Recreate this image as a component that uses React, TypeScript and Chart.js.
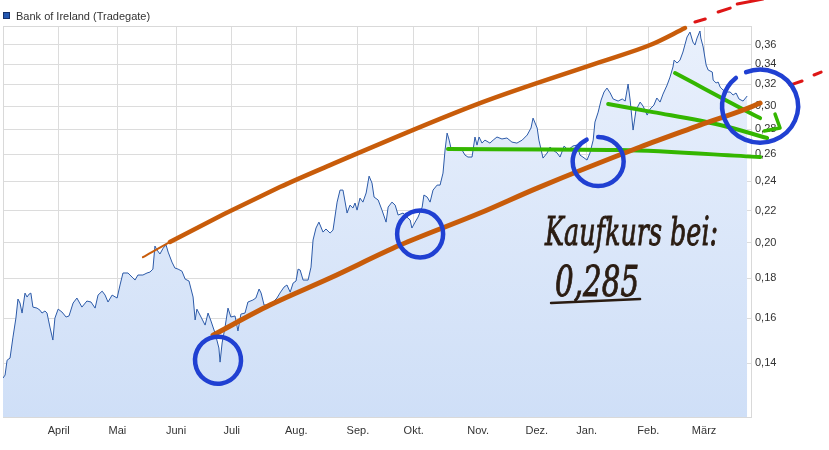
import React, { useEffect, useRef } from 'react';
import { Chart, registerables } from 'chart.js';

Chart.register(...registerables);

const seriesName = 'Bank of Ireland (Tradegate)';
const monthLabels = ['April', 'Mai', 'Juni', 'Juli', 'Aug.', 'Sep.', 'Okt.', 'Nov.', 'Dez.', 'Jan.', 'Feb.', 'März'];
const monthStartDays = [19, 39, 59, 78, 100, 121, 140, 162, 182, 199, 220, 239];
const yTickValues = [0.14, 0.16, 0.18, 0.2, 0.22, 0.24, 0.26, 0.28, 0.3, 0.32, 0.34, 0.36];

// trading-day index and price (EUR)
const priceDays = [
  0, 0.7, 1.4, 2.4, 3.4, 4.4, 5.1, 5.8, 6.5, 7.5, 8.2, 8.9, 9.5, 10.2, 11.6, 12.6, 13.3, 14.3, 15.0, 16.0,
  17.0, 17.7, 18.8, 20.1, 21.5, 22.5, 23.9, 25.2, 26.9, 28.6, 30.0, 31.4, 32.4, 33.8, 34.8, 35.8, 37.2, 38.9, 39.9, 40.9,
  42.6, 44.0, 45.0, 46.0, 47.7, 49.1, 50.1, 51.1, 51.8, 52.5, 53.5, 54.6, 55.6, 56.3, 57.6, 58.6, 59.7, 61.0, 62.1, 63.4,
  64.8, 65.5, 66.1, 67.5, 68.9, 69.9, 70.9, 72.3, 73.6, 74.0, 74.7, 75.7, 76.7, 77.7, 79.1, 80.1, 81.1, 82.5, 83.5, 85.2,
  86.2, 87.3, 88.0, 89.0, 90.7, 92.4, 93.4, 94.4, 95.8, 96.8, 97.9, 98.9, 99.9, 100.6, 101.3, 102.3, 104.0, 105.0, 105.7, 106.7,
  107.7, 109.1, 110.1, 111.5, 112.5, 113.9, 114.9, 115.9, 117.3, 118.3, 119.3, 120.0, 120.7, 121.7, 122.7, 123.8, 124.8, 125.8, 126.5, 127.9,
  129.2, 130.6, 131.3, 132.6, 133.7, 134.7, 136.4, 137.7, 138.8, 139.4, 140.5, 141.5, 142.9, 143.5, 144.6, 145.6, 146.6, 148.0, 149.0, 150.0,
  150.7, 151.4, 152.1, 152.7, 154.1, 156.5, 157.5, 158.5, 159.9, 160.9, 161.6, 162.3, 163.3, 164.3, 166.0, 167.1, 168.4, 170.1, 171.8, 173.5,
  175.2, 177.0, 178.7, 180.0, 180.7, 182.1, 182.7, 184.1, 185.5, 186.5, 187.5, 188.9, 189.9, 191.3, 192.6, 194.3, 195.7, 196.7, 197.7, 199.1,
  200.1, 201.2, 201.8, 202.9, 203.9, 204.9, 205.9, 207.0, 208.0, 209.7, 211.1, 212.1, 213.1, 213.8, 214.8, 215.8, 217.2, 218.2, 219.6, 220.6,
  221.9, 222.9, 224.0, 225.0, 226.4, 227.4, 228.4, 228.8, 229.8, 230.8, 231.8, 233.2, 234.2, 235.2, 235.9, 236.6, 237.6, 237.9, 238.7, 239.7,
  240.4, 241.8, 242.1, 243.1, 243.8, 244.5, 245.5, 246.9, 247.9, 248.9, 249.9, 250.9, 252.3, 253.7,
];
const priceValues = [
  0.1339, 0.1351, 0.1412, 0.1421, 0.1512, 0.16, 0.1693, 0.1673, 0.1624, 0.1723, 0.1703, 0.1718, 0.1723, 0.1653, 0.1648, 0.1638, 0.1624, 0.1634, 0.1624, 0.1558,
  0.1499, 0.16, 0.1643, 0.1629, 0.1605, 0.161, 0.1673, 0.1698, 0.1653, 0.1683, 0.1678, 0.1648, 0.1713, 0.1733, 0.1713, 0.1678, 0.1713, 0.1698, 0.1765, 0.1829,
  0.1829, 0.1807, 0.1791, 0.1818, 0.1818, 0.1829, 0.1834, 0.185, 0.1981, 0.1958, 0.1935, 0.1969, 0.1987, 0.1946, 0.1889, 0.1856, 0.185, 0.1839, 0.1796, 0.1786,
  0.1703, 0.1591, 0.1643, 0.1605, 0.1567, 0.1624, 0.1586, 0.153, 0.1464, 0.1404, 0.1486, 0.1558, 0.1648, 0.1605, 0.161, 0.154, 0.1619, 0.1624, 0.1678, 0.1688,
  0.1698, 0.1744, 0.1723, 0.1663, 0.1663, 0.1683, 0.1698, 0.1723, 0.1754, 0.1765, 0.1728, 0.1775, 0.1786, 0.185, 0.1845, 0.1791, 0.1791, 0.1861, 0.2017, 0.209,
  0.2127, 0.2065, 0.2084, 0.2059, 0.2077, 0.2257, 0.2339, 0.2339, 0.2185, 0.2237, 0.2218, 0.2251, 0.2204, 0.2284, 0.2257, 0.2319, 0.2438, 0.2388, 0.2291, 0.2271,
  0.2204, 0.2127, 0.2224, 0.2257, 0.2237, 0.2172, 0.2185, 0.2159, 0.214, 0.209, 0.2127, 0.2159, 0.2224, 0.2305, 0.2291, 0.2257, 0.2339, 0.2374, 0.2374, 0.246,
  0.2634, 0.277, 0.2713, 0.265, 0.2634, 0.2634, 0.2595, 0.258, 0.258, 0.2738, 0.2673, 0.2738, 0.2689, 0.2713, 0.2689, 0.2713, 0.2738, 0.2722, 0.273, 0.2697,
  0.2689, 0.2713, 0.2754, 0.2812, 0.2896, 0.2812, 0.2713, 0.2572, 0.2611, 0.2658, 0.2634, 0.2611, 0.258, 0.2666, 0.2634, 0.2666, 0.2673, 0.2595, 0.258, 0.2557,
  0.2611, 0.2713, 0.2862, 0.2948, 0.3055, 0.3129, 0.3166, 0.312, 0.3065, 0.3046, 0.3065, 0.3046, 0.3204, 0.3055, 0.2795, 0.2966, 0.3037, 0.3001, 0.2922, 0.2975,
  0.301, 0.3074, 0.3037, 0.311, 0.3194, 0.3271, 0.337, 0.344, 0.341, 0.344, 0.3523, 0.3684, 0.3738, 0.3629, 0.3597, 0.3672, 0.375, 0.3672, 0.3576, 0.339,
  0.334, 0.332, 0.3242, 0.3214, 0.3223, 0.3175, 0.3147, 0.3129, 0.3129, 0.3101, 0.312, 0.3065, 0.3046, 0.3092,
];

// hand-drawn annotations, in (trading day, price)
const upperTrendDays = [47.7, 56.9, 94.4, 111.5, 162.6, 203.5, 220.6, 232.5];
const upperTrendValues = [0.1917, 0.2005, 0.236, 0.2519, 0.3028, 0.342, 0.3597, 0.3783];
const lowerTrendDays = [71.6, 91.0, 111.5, 135.4, 162.6, 182.1, 217.2, 237.6, 258.1, 262.2];
const lowerTrendValues = [0.1521, 0.1663, 0.1802, 0.1987, 0.2185, 0.2353, 0.2658, 0.2837, 0.3028, 0.3092];
const redDashDays = [235.9, 239.4, null, 243.8, 247.9, null, 250.3, 259.1, null, 268.3, 272.4, null, 276.5, 278.9];
const redDashValues = [0.3851, 0.3886, null, 0.3967, 0.4014, null, 0.4062, 0.4123, null, 0.3194, 0.3233, null, 0.3291, 0.332];
const greenFlatDays = [151.7, 210.4, 258.1];
const greenFlatValues = [0.2642, 0.2634, 0.258];
const greenMidDays = [206.3, 221.6, 244.5, 260.5];
const greenMidValues = [0.3019, 0.2948, 0.2837, 0.273];
const greenArrowDays = [229.1, 258.1, 264.9];
const greenArrowValues = [0.331, 0.2896, 0.2812];
const arrowHeadDays = [259.5, 264.9, 263.2];
const arrowHeadValues = [0.2787, 0.2812, 0.2931];
const circleDays = [73.3, 142.2, 202.9, 258.1];
const circleValues = [0.1412, 0.2053, 0.2546, 0.3001];
const noteLines = ['Kaufkurs bei:', '0,285'];
const noteDays = [184.8, 188.2];
const noteValues = [0.1987, 0.1708];

const FONT = "'Liberation Sans', Arial, sans-serif";
const ORANGE = 'rgb(200, 92, 10)';
const GREEN = 'rgb(52, 182, 0)';
const BLUE = 'rgb(32, 64, 210)';
const RED = 'rgb(222, 22, 22)';

const zip = (xs: (number | null)[], ys: (number | null)[]) => xs.map((x, i) => ({ x, y: ys[i] }));

const circleStyle = [
  { rx: 23, ry: 23.5, a0: -Math.PI * 0.55, a1: Math.PI * 1.45 },
  { rx: 23, ry: 23.5, a0: 0, a1: Math.PI * 2 },
  { rx: 25.5, ry: 24.5, a0: -Math.PI * 0.5, a1: Math.PI * 1.35 },
  { rx: 38, ry: 36.5, a0: -Math.PI * 0.62, a1: Math.PI * 1.28 },
];

const decorPlugin = {
  id: 'decor',
  beforeDatasetsDraw(chart: any) {
    const { ctx, chartArea: a } = chart;
    ctx.save();
    ctx.strokeStyle = '#d9d9d9';
    ctx.lineWidth = 1;
    ctx.strokeRect(Math.round(a.left) + 0.5, Math.round(a.top) + 0.5, Math.round(a.right - a.left), Math.round(a.bottom - a.top));
    ctx.restore();
  },
  afterDraw(chart: any) {
    const { ctx } = chart;
    const xs = chart.scales.x;
    const ys = chart.scales.y;
    // circles
    ctx.save();
    ctx.strokeStyle = BLUE;
    ctx.lineWidth = 4.5;
    ctx.lineCap = 'round';
    circleDays.forEach((d, i) => {
      const st = circleStyle[i];
      ctx.beginPath();
      ctx.ellipse(xs.getPixelForValue(d), ys.getPixelForValue(circleValues[i]), st.rx, st.ry, 0, st.a0, st.a1);
      ctx.stroke();
    });
    ctx.restore();
    // handwritten note
    ctx.save();
    ctx.fillStyle = '#2a1c12';
    ctx.strokeStyle = '#2a1c12';
    const widths = [173, 84];
    const sizes = [40, 42];
    noteLines.forEach((t, i) => {
      const px = xs.getPixelForValue(noteDays[i]);
      const py = ys.getPixelForValue(noteValues[i]);
      ctx.save();
      ctx.font = `italic ${sizes[i]}px 'DejaVu Serif'`;
      const w = ctx.measureText(t).width;
      ctx.translate(px, py);
      ctx.scale(widths[i] / w, 1);
      ctx.lineWidth = 1;
      ctx.fillText(t, 0, 0);
      ctx.strokeText(t, 0, 0);
      ctx.restore();
      if (i === 1) {
        ctx.lineWidth = 2.5;
        ctx.lineCap = 'round';
        ctx.beginPath();
        ctx.moveTo(px - 4, py + 7);
        ctx.lineTo(px + 85, py + 3);
        ctx.stroke();
      }
    });
    ctx.restore();
    // legend
    ctx.save();
    ctx.fillStyle = '#2457b0';
    ctx.fillRect(3, 12, 7, 7);
    ctx.strokeStyle = '#15306a';
    ctx.lineWidth = 1;
    ctx.strokeRect(3.5, 12.5, 6, 6);
    ctx.fillStyle = '#333333';
    ctx.font = `11px ${FONT}`;
    ctx.textBaseline = 'alphabetic';
    ctx.fillText(seriesName, 16, 20);
    ctx.restore();
  },
};

export default function App() {
  const ref = useRef<HTMLCanvasElement | null>(null);
  useEffect(() => {
    if (!ref.current) return;
    const thick = (data: any, color: string, width: number, extra: any = {}) => ({
      data,
      borderColor: color,
      borderWidth: width,
      pointRadius: 0,
      fill: false,
      cubicInterpolationMode: 'monotone',
      clip: false,
      borderCapStyle: 'round',
      borderJoinStyle: 'round',
      order: 1,
      ...extra,
    });
    const chart = new Chart(ref.current, {
      type: 'line',
      data: {
        datasets: [
          thick(zip(upperTrendDays, upperTrendValues), ORANGE, 4.5, {
            segment: { borderWidth: (c: any) => (c.p0DataIndex === 0 ? 2 : 4.5) },
          }),
          thick(zip(lowerTrendDays, lowerTrendValues), ORANGE, 5),
          thick(zip(redDashDays, redDashValues), RED, 3, { cubicInterpolationMode: 'default', tension: 0, spanGaps: false }),
          thick(zip(greenFlatDays, greenFlatValues), GREEN, 4),
          thick(zip(greenMidDays, greenMidValues), GREEN, 4),
          thick(zip(greenArrowDays, greenArrowValues), GREEN, 4),
          thick(zip(arrowHeadDays, arrowHeadValues), GREEN, 3.5, { cubicInterpolationMode: 'default', tension: 0 }),
          {
            label: seriesName,
            data: zip(priceDays, priceValues),
            borderColor: '#2c5aa8',
            borderWidth: 1,
            pointRadius: 0,
            tension: 0,
            fill: 'start',
            order: 10,
            backgroundColor: (c: any) => {
              const area = c.chart.chartArea;
              if (!area) return '#d8e5f8';
              const g = c.chart.ctx.createLinearGradient(0, area.top, 0, area.bottom);
              g.addColorStop(0, '#e9f0fc');
              g.addColorStop(1, '#cfdff7');
              return g;
            },
          },
        ],
      },
      options: {
        animation: false,
        responsive: false,
        devicePixelRatio: 1,
        events: [],
        layout: { padding: { left: 3, top: 26, right: 0, bottom: 0 } },
        plugins: { legend: { display: false }, tooltip: { enabled: false }, title: { display: false } },
        scales: {
          x: {
            type: 'linear',
            min: 0,
            max: 255,
            afterBuildTicks: (s: any) => {
              s.ticks = monthStartDays.map((v) => ({ value: v }));
            },
            afterFit: (s: any) => {
              s.height = 33;
            },
            grid: { color: '#dcdcdc', drawTicks: false, lineWidth: 1 },
            border: { display: false },
            ticks: {
              autoSkip: false,
              maxRotation: 0,
              padding: 7,
              color: '#333333',
              font: { family: FONT, size: 11 },
              callback: (v: any) => {
                const i = monthStartDays.indexOf(Number(v));
                return i >= 0 ? monthLabels[i] : '';
              },
            },
          },
          y: {
            type: 'logarithmic',
            position: 'right',
            min: 0.1193,
            max: 0.3806,
            afterBuildTicks: (s: any) => {
              s.ticks = yTickValues.map((v) => ({ value: v }));
            },
            afterFit: (s: any) => {
              s.width = 78;
            },
            grid: { color: '#dcdcdc', drawTicks: false, lineWidth: 1 },
            border: { display: false },
            ticks: {
              autoSkip: false,
              padding: 4,
              color: '#333333',
              font: { family: FONT, size: 11 },
              callback: (v: any) => Number(v).toFixed(2).replace('.', ','),
            },
          },
        },
      },
      plugins: [decorPlugin],
    } as any);
    return () => chart.destroy();
  }, []);
  return (
    <div style={{ position: 'absolute', left: 0, top: 0, width: 829, height: 450, background: '#ffffff' }}>
      <canvas ref={ref} width={829} height={450} />
    </div>
  );
}
